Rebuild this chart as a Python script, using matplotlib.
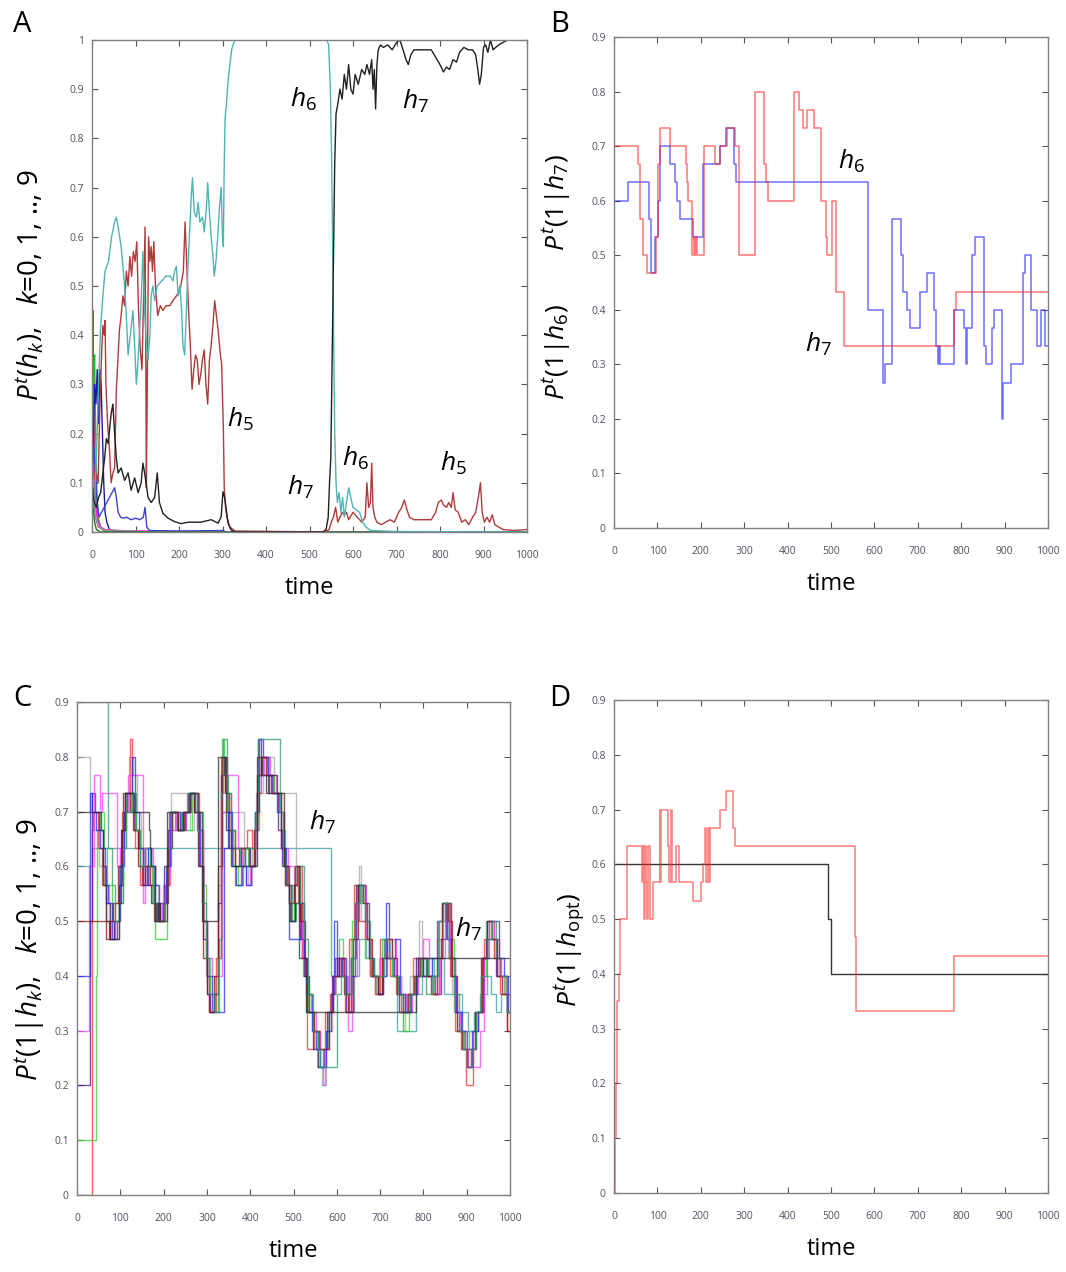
import numpy as np
import matplotlib.pyplot as plt

plt.rcParams['font.family'] = ['Open Sans', 'DejaVu Sans']
plt.rcParams['mathtext.fontset'] = 'custom'
plt.rcParams['mathtext.rm'] = 'Open Sans'
plt.rcParams['mathtext.it'] = 'Open Sans:italic'

# ---------------- panel A: P^t(h_k), (time, value) ----------------
A_H0 = [(0, 0.1), (2, 0.45), (4, 0.25), (6, 0.12), (9, 0.05), (12, 0.03), (18, 0.01), (25, 0.004), (40, 0), (1000, 0)]
A_H1 = [(0, 0.1), (2, 0.2), (4, 0.3), (6, 0.36), (8, 0.22), (11, 0.08), (14, 0.03), (20, 0.01), (30, 0), (1000, 0)]
A_H2 = [(0, 0.1), (3, 0.17), (6, 0.3), (9, 0.26), (12, 0.33), (15, 0.22), (18, 0.33), (21, 0.3), (24, 0.2),
        (27, 0.1), (30, 0.04), (34, 0.02), (40, 0.005), (60, 0), (1000, 0)]
A_H3 = [(0, 0.1), (3, 0.13), (6, 0.08), (10, 0.04), (14, 0.02), (20, 0.01), (30, 0.005), (60, 0.003),
        (120, 0.002), (300, 0.001), (320, 0), (1000, 0)]
A_H4 = [(0, 0.1), (4, 0.18), (8, 0.12), (12, 0.06), (16, 0.03), (22, 0.04), (28, 0.05), (34, 0.06), (40, 0.07),
        (46, 0.08), (52, 0.09), (56, 0.07), (60, 0.04), (66, 0.03), (72, 0.028), (80, 0.03), (90, 0.025),
        (100, 0.028), (110, 0.025), (118, 0.03), (122, 0.05), (126, 0.01), (132, 0.003), (200, 0.002),
        (300, 0.003), (310, 0), (1000, 0)]
A_H5 = [(0, 0.1), (5, 0.08), (10, 0.12), (14, 0.1), (18, 0.25), (22, 0.36), (25, 0.42), (28, 0.4), (30, 0.43),
        (32, 0.3), (36, 0.22), (40, 0.17), (44, 0.1), (48, 0.12), (52, 0.13), (56, 0.29), (60, 0.36), (63, 0.41),
        (67, 0.44), (71, 0.48), (75, 0.46), (79, 0.53), (83, 0.5), (87, 0.56), (91, 0.52), (95, 0.57), (99, 0.55),
        (103, 0.59), (107, 0.45), (111, 0.37), (115, 0.33), (119, 0.5), (122, 0.62), (124, 0.3), (125, 0.09),
        (127, 0.3), (130, 0.6), (133, 0.55), (136, 0.58), (139, 0.53), (142, 0.59), (146, 0.5), (151, 0.44),
        (157, 0.46), (163, 0.45), (170, 0.46), (179, 0.46), (186, 0.47), (194, 0.48), (202, 0.49), (206, 0.51),
        (210, 0.53), (214, 0.63), (218, 0.54), (222, 0.45), (226, 0.38), (230, 0.29), (234, 0.33), (238, 0.36),
        (242, 0.35), (246, 0.3), (250, 0.32), (254, 0.35), (258, 0.37), (262, 0.3), (266, 0.26), (270, 0.35),
        (274, 0.38), (278, 0.42), (282, 0.47), (286, 0.44), (290, 0.41), (294, 0.37), (298, 0.34), (302, 0.21),
        (304, 0.09), (307, 0.05), (310, 0.03), (317, 0.01), (329, 0.002), (535, 0), (545, 0.005), (550, 0.02),
        (555, 0.03), (560, 0.05), (565, 0.02), (570, 0.03), (575, 0.04), (580, 0.035), (585, 0.04), (590, 0.025),
        (600, 0.04), (610, 0.03), (620, 0.02), (628, 0.03), (632, 0.1), (636, 0.05), (640, 0.06), (643, 0.14),
        (646, 0.05), (650, 0.03), (655, 0.02), (665, 0.015), (675, 0.02), (685, 0.025), (695, 0.02), (705, 0.04),
        (712, 0.05), (718, 0.065), (724, 0.045), (730, 0.03), (740, 0.025), (760, 0.025), (780, 0.025),
        (790, 0.04), (796, 0.06), (803, 0.065), (808, 0.055), (815, 0.05), (820, 0.06), (826, 0.05), (830, 0.08),
        (835, 0.045), (842, 0.04), (850, 0.02), (858, 0.025), (866, 0.015), (875, 0.03), (882, 0.04), (888, 0.07),
        (893, 0.1), (897, 0.04), (902, 0.02), (908, 0.03), (914, 0.02), (920, 0.035), (926, 0.015), (935, 0.01),
        (945, 0.005), (970, 0.003), (1000, 0.005)]
A_H6 = [(0, 0.1), (5, 0.05), (10, 0.15), (15, 0.3), (20, 0.42), (25, 0.48), (30, 0.53), (38, 0.55), (45, 0.6),
        (52, 0.63), (56, 0.64), (60, 0.62), (67, 0.58), (72, 0.53), (75, 0.5), (80, 0.42), (83, 0.36), (88, 0.4),
        (94, 0.45), (98, 0.38), (102, 0.3), (106, 0.35), (110, 0.42), (113, 0.47), (117, 0.57), (121, 0.45),
        (125, 0.38), (129, 0.35), (133, 0.4), (136, 0.48), (140, 0.5), (144, 0.47), (150, 0.5), (160, 0.51),
        (170, 0.52), (180, 0.52), (186, 0.51), (190, 0.53), (194, 0.54), (198, 0.48), (202, 0.5), (206, 0.45),
        (209, 0.38), (213, 0.36), (217, 0.45), (221, 0.55), (225, 0.62), (228, 0.68), (231, 0.72), (235, 0.65),
        (240, 0.64), (244, 0.67), (248, 0.63), (254, 0.64), (258, 0.61), (263, 0.66), (266, 0.71), (270, 0.65),
        (274, 0.6), (278, 0.56), (281, 0.52), (285, 0.55), (289, 0.6), (293, 0.66), (297, 0.7), (300, 0.6),
        (302, 0.58), (304, 0.75), (306, 0.84), (310, 0.88), (313, 0.92), (317, 0.95), (321, 0.98), (326, 0.995),
        (330, 1.0), (540, 1.0), (544, 0.99), (548, 0.9), (551, 0.75), (553, 0.6), (556, 0.35), (558, 0.2),
        (561, 0.1), (564, 0.06), (568, 0.08), (572, 0.04), (576, 0.07), (580, 0.03), (585, 0.06), (590, 0.09),
        (595, 0.07), (600, 0.05), (608, 0.045), (615, 0.04), (622, 0.02), (630, 0.01), (640, 0.003), (700, 0.001),
        (1000, 0)]
A_H7 = [(0, 0.1), (5, 0.06), (10, 0.05), (15, 0.07), (20, 0.08), (25, 0.12), (29, 0.15), (33, 0.19), (37, 0.18),
        (44, 0.24), (48, 0.26), (52, 0.2), (56, 0.15), (60, 0.12), (67, 0.13), (75, 0.105), (83, 0.12), (90, 0.085),
        (98, 0.11), (106, 0.08), (113, 0.1), (117, 0.14), (121, 0.12), (129, 0.07), (136, 0.06), (144, 0.07),
        (150, 0.12), (155, 0.06), (163, 0.038), (175, 0.028), (190, 0.021), (205, 0.017), (221, 0.02),
        (251, 0.02), (274, 0.025), (290, 0.018), (297, 0.031), (301, 0.082), (305, 0.07), (313, 0.017),
        (320, 0.004), (328, 0), (530, 0), (538, 0.005), (543, 0.03), (546, 0.1), (549, 0.15), (552, 0.35),
        (555, 0.55), (558, 0.75), (561, 0.85), (565, 0.87), (570, 0.9), (575, 0.88), (580, 0.93), (585, 0.9),
        (590, 0.95), (595, 0.9), (600, 0.89), (605, 0.93), (612, 0.91), (620, 0.94), (627, 0.93), (632, 0.95),
        (638, 0.93), (643, 0.96), (646, 0.9), (649, 0.94), (652, 0.86), (655, 0.95), (658, 0.98), (663, 0.99),
        (670, 0.985), (680, 0.99), (690, 0.98), (700, 0.995), (708, 1.0), (715, 0.98), (722, 0.96), (727, 0.95),
        (733, 0.97), (740, 0.98), (760, 0.98), (780, 0.98), (790, 0.965), (800, 0.95), (808, 0.935), (815, 0.945),
        (822, 0.94), (830, 0.96), (838, 0.955), (845, 0.975), (855, 0.985), (865, 0.98), (875, 0.98), (882, 0.97),
        (887, 0.94), (891, 0.91), (895, 0.93), (900, 0.985), (905, 0.99), (910, 0.975), (916, 1.0), (922, 0.98),
        (928, 0.985), (935, 0.99), (945, 0.995), (955, 1.0), (1000, 1.0)]
A_H8 = [(0, 0.1), (4, 0.06), (8, 0.03), (14, 0.01), (30, 0.004), (100, 0.002), (130, 0), (1000, 0)]
A_H9 = [(0, 0.1), (3, 0.05), (6, 0.02), (10, 0.005), (20, 0), (1000, 0)]

A_SERIES = [A_H0, A_H1, A_H2, A_H3, A_H4, A_H8, A_H9, A_H5, A_H6, A_H7]
A_COLORS = ['#ff2020', '#20c020', '#1a1aa0', '#ff20ff', '#4040d0', '#909090', '#207020',
            '#b03a3a', '#4fb4b4', '#202020']

# ---------------- panel B: P^t(1|h), step values in 30ths ----------------
B_H6 = [(0, 18), (32, 19), (81, 17), (85, 14), (94, 16), (102, 18), (106, 21), (129, 20), (140, 19), (146, 18),
        (153, 17), (181, 16), (205, 20), (244, 21), (259, 22), (276, 20), (280, 19), (586, 12), (619, 8),
        (625, 9), (640, 17), (662, 15), (666, 13), (675, 12), (683, 11), (704, 13), (721, 14), (738, 12),
        (741, 10), (746, 9), (748, 10), (752, 9), (783, 12), (806, 11), (810, 9), (814, 11), (826, 15),
        (831, 16), (853, 10), (857, 9), (872, 11), (876, 12), (893, 6), (897, 8), (915, 9), (942, 14),
        (946, 15), (960, 12), (975, 10), (984, 12), (992, 10), (1000, 10)]
B_H7 = [(0, 21), (56, 20), (61, 17), (67, 15), (75, 14), (97, 16), (102, 20), (106, 22), (129, 21), (167, 20),
        (169, 19), (171, 18), (179, 15), (184, 16), (186, 15), (190, 16), (192, 15), (208, 21), (233, 20),
        (244, 21), (261, 22), (279, 21), (289, 15), (325, 24), (345, 20), (350, 19), (355, 18), (415, 24),
        (427, 23), (436, 22), (444, 23), (461, 22), (478, 18), (489, 16), (491, 15), (503, 18), (512, 13),
        (529, 10), (783, 12), (787, 13), (1000, 13)]

# ---------------- panel C: P^t(1|h_k), k=0..9, step values in 30ths ----------------
C_H0 = [(0, 0), (34, 20), (38, 21), (48, 19), (58, 17), (66, 15), (76, 14), (88, 16), (98, 18), (104, 21),
        (112, 22), (122, 25), (126, 22), (134, 19), (145, 17), (158, 19), (170, 18), (180, 16), (192, 15),
        (204, 17), (212, 21), (226, 20), (240, 21), (264, 22), (282, 20), (292, 15), (300, 12), (306, 10),
        (322, 13), (332, 24), (342, 22), (356, 19), (366, 17), (378, 19), (392, 20), (404, 19), (416, 22),
        (424, 24), (438, 23), (452, 22), (466, 21), (478, 18), (488, 17), (500, 16), (510, 18), (520, 13),
        (532, 8), (548, 9), (562, 8), (572, 10), (585, 11), (596, 13), (606, 12), (618, 10), (628, 14),
        (640, 17), (652, 15), (664, 14), (676, 12), (688, 11), (700, 14), (712, 13), (724, 12), (736, 11),
        (748, 10), (762, 11), (776, 13), (790, 12), (822, 11), (836, 15), (850, 16), (862, 12), (874, 9),
        (886, 8), (898, 6), (914, 9), (926, 10), (940, 14), (952, 15), (964, 13), (978, 11), (992, 9)]
C_H1 = [(0, 3), (43, 12), (47, 20), (52, 21), (62, 19), (70, 17), (80, 15), (98, 17), (106, 20), (114, 22),
        (124, 21), (136, 20), (146, 18), (156, 19), (164, 18), (174, 16), (180, 14), (208, 18), (216, 21),
        (230, 20), (242, 21), (252, 20), (266, 22), (278, 21), (290, 17), (298, 13), (308, 11), (318, 10),
        (328, 14), (334, 25), (340, 23), (348, 20), (360, 18), (372, 17), (384, 19), (396, 18), (408, 20),
        (418, 23), (430, 24), (444, 23), (456, 22), (470, 20), (480, 17), (490, 15), (500, 17), (512, 16),
        (522, 12), (534, 10), (548, 9), (556, 7), (568, 8), (580, 10), (592, 12), (604, 14), (614, 12),
        (624, 11), (636, 15), (646, 17), (658, 16), (668, 13), (680, 12), (704, 14), (728, 12), (740, 11),
        (754, 9), (766, 11), (780, 12), (796, 13), (810, 12), (824, 11), (836, 13), (846, 16), (858, 14),
        (870, 10), (882, 9), (894, 8), (906, 9), (920, 10), (932, 12), (944, 15), (956, 14), (970, 12),
        (986, 11)]
C_H2 = [(0, 6), (30, 15), (34, 22), (42, 21), (50, 20), (60, 18), (68, 16), (76, 14), (86, 15), (96, 17),
        (104, 20), (112, 22), (132, 20), (142, 19), (152, 18), (162, 17), (172, 16), (182, 15), (192, 16),
        (202, 18), (210, 20), (220, 21), (232, 20), (244, 21), (256, 22), (270, 21), (280, 18), (290, 14),
        (300, 11), (308, 10), (316, 11), (326, 16), (332, 23), (340, 24), (346, 21), (356, 19), (378, 18),
        (388, 19), (400, 18), (410, 21), (418, 25), (426, 23), (440, 22), (464, 20), (474, 18), (484, 17),
        (494, 15), (504, 16), (514, 14), (524, 12), (532, 10), (544, 8), (556, 7), (570, 8), (578, 10),
        (590, 12), (600, 13), (612, 12), (622, 10), (632, 13), (644, 17), (664, 15), (674, 13), (684, 12),
        (696, 11), (706, 13), (732, 12), (744, 10), (770, 11), (784, 13), (798, 12), (826, 11), (840, 14),
        (852, 16), (864, 13), (874, 10), (886, 9), (896, 8), (920, 10), (934, 13), (944, 14), (968, 12),
        (994, 10)]
C_H3 = [(0, 9), (27, 18), (40, 23), (53, 21), (57, 22), (93, 18), (100, 19), (108, 21), (117, 23), (152, 16),
        (156, 19), (176, 16), (186, 15), (196, 16), (206, 17), (214, 20), (228, 21), (240, 20), (252, 21),
        (264, 22), (276, 20), (290, 15), (300, 13), (311, 12), (335, 21), (347, 23), (371, 19), (380, 18),
        (390, 17), (400, 18), (410, 20), (420, 23), (432, 24), (446, 23), (460, 22), (470, 21), (478, 19),
        (488, 18), (500, 17), (512, 15), (520, 13), (530, 11), (540, 10), (552, 9), (562, 8), (569, 6),
        (572, 8), (582, 10), (592, 12), (602, 13), (614, 12), (626, 9), (634, 12), (646, 16), (656, 17),
        (668, 14), (678, 12), (700, 13), (712, 14), (736, 12), (748, 11), (760, 10), (774, 11), (788, 13),
        (800, 14), (812, 12), (826, 11), (838, 13), (850, 15), (862, 13), (872, 10), (884, 9), (896, 8),
        (902, 7), (930, 9), (940, 13), (952, 15), (962, 14), (974, 12), (988, 11)]
C_H4 = [(0, 12), (30, 22), (35, 21), (44, 20), (54, 19), (64, 17), (72, 16), (80, 14), (92, 15), (100, 18),
        (108, 21), (116, 22), (128, 24), (134, 21), (144, 19), (152, 17), (164, 19), (172, 18), (180, 17),
        (190, 15), (198, 16), (206, 18), (214, 21), (238, 20), (250, 21), (262, 22), (272, 21), (284, 18),
        (290, 15), (300, 12), (311, 10), (339, 19), (348, 21), (358, 18), (368, 17), (380, 18), (390, 17),
        (402, 18), (412, 21), (420, 25), (430, 24), (440, 23), (450, 22), (462, 21), (472, 19), (482, 17),
        (490, 14), (517, 16), (524, 13), (532, 11), (542, 9), (552, 8), (562, 7), (574, 9), (586, 11),
        (594, 15), (600, 12), (610, 13), (622, 11), (632, 12), (642, 16), (650, 17), (666, 16), (674, 13),
        (686, 12), (696, 11), (706, 12), (714, 16), (720, 13), (734, 14), (746, 11), (758, 10), (772, 11),
        (786, 12), (798, 13), (808, 12), (820, 13), (832, 15), (842, 16), (854, 14), (864, 12), (876, 10),
        (888, 9), (900, 7), (912, 9), (926, 10), (938, 13), (948, 15), (974, 13), (986, 12), (996, 10)]
C_H5 = [(0, 15), (68, 14), (76, 15), (84, 16), (94, 18), (104, 20), (112, 22), (122, 21), (130, 20), (140, 18),
        (150, 17), (158, 18), (168, 17), (178, 15), (200, 16), (210, 19), (220, 21), (234, 20), (246, 21),
        (258, 22), (270, 21), (282, 18), (292, 13), (300, 11), (306, 10), (316, 12), (326, 18), (334, 24),
        (342, 22), (352, 20), (364, 18), (374, 19), (398, 18), (408, 20), (416, 23), (426, 24), (436, 23),
        (448, 22), (470, 19), (480, 17), (490, 16), (500, 17), (508, 18), (516, 15), (526, 12), (536, 10),
        (548, 9), (560, 8), (582, 10), (592, 12), (604, 13), (616, 11), (626, 10), (638, 14), (648, 17),
        (660, 16), (670, 14), (682, 12), (694, 11), (704, 13), (716, 14), (728, 13), (740, 11), (752, 10),
        (764, 11), (778, 12), (792, 13), (806, 12), (818, 11), (832, 13), (844, 16), (856, 15), (866, 12),
        (878, 9), (890, 8), (900, 7), (910, 8), (922, 10), (936, 13), (946, 15), (958, 14), (970, 12),
        (982, 11), (994, 9)]
C_H6 = [(0, 18), (35, 19), (587, 12), (596, 13), (606, 12), (618, 11), (628, 10), (640, 12), (652, 14),
        (664, 13), (676, 12), (690, 11), (704, 12), (716, 13), (728, 12), (740, 9), (783, 11), (796, 12),
        (810, 13), (824, 12), (836, 13), (847, 11), (890, 10), (904, 9), (918, 10), (930, 11), (946, 12),
        (956, 11), (968, 10), (980, 11), (992, 10)]
C_H7 = B_H7
C_H8 = [(0, 24), (30, 21), (40, 20), (50, 18), (62, 17), (74, 15), (86, 14), (96, 16), (106, 19), (114, 21),
        (120, 24), (130, 23), (138, 21), (148, 19), (156, 17), (166, 18), (176, 17), (186, 15), (198, 17),
        (208, 18), (216, 22), (260, 20), (270, 21), (280, 19), (290, 15), (298, 12), (308, 11), (318, 12),
        (326, 17), (335, 21), (385, 18), (395, 17), (405, 19), (414, 22), (430, 24), (454, 22), (505, 17),
        (512, 16), (520, 13), (530, 10), (542, 9), (554, 7), (566, 6), (576, 9), (588, 11), (598, 12),
        (610, 13), (620, 11), (632, 14), (642, 16), (652, 18), (656, 15), (666, 14), (676, 12), (688, 11),
        (698, 13), (710, 14), (722, 13), (734, 12), (744, 11), (754, 9), (758, 11), (770, 12), (782, 13),
        (790, 15), (796, 12), (808, 13), (820, 12), (832, 14), (844, 16), (856, 13), (866, 11), (878, 9),
        (890, 8), (902, 7), (914, 9), (926, 10), (938, 13), (950, 14), (962, 13), (976, 12), (990, 11)]
C_H9 = [(0, 27), (72, 19), (80, 17), (88, 15), (96, 16), (106, 19), (114, 21), (126, 22), (136, 20), (146, 18),
        (156, 19), (168, 18), (178, 16), (188, 15), (200, 16), (208, 19), (216, 21), (230, 20), (242, 21),
        (254, 22), (278, 20), (288, 16), (298, 13), (306, 11), (316, 10), (326, 13), (332, 22), (338, 25),
        (346, 22), (356, 20), (366, 19), (376, 18), (388, 19), (410, 21), (418, 25), (468, 21), (476, 18),
        (486, 17), (496, 15), (506, 16), (516, 18), (524, 14), (534, 11), (546, 9), (556, 8), (561, 7),
        (600, 11), (610, 12), (620, 11), (632, 13), (642, 16), (654, 17), (664, 15), (676, 13), (686, 12),
        (708, 14), (720, 13), (730, 12), (742, 11), (752, 10), (768, 11), (780, 12), (794, 13), (806, 11),
        (820, 12), (834, 15), (846, 16), (860, 13), (870, 11), (882, 9), (892, 8), (900, 7), (910, 8),
        (922, 10), (934, 12), (946, 14), (958, 15), (968, 13), (980, 12), (992, 10)]

C_SERIES = [C_H6, C_H8, C_H0, C_H1, C_H2, C_H3, C_H4, C_H5, C_H9, C_H7]
C_COLORS = ['#3a9c9c', '#a8a8a8', '#f03030', '#30d030', '#4a1090', '#ff40ff', '#2a2af0', '#8b1010',
            '#2f9a6a', '#303030']

# ---------------- panel D: P^t(1|h_opt) ----------------
D_RED = [(0, 0), (2, 0.1), (5, 0.2), (8, 0.35), (11, 0.4), (14, 0.5), (29, 0.633), (64, 0.567), (66, 0.633),
         (68, 0.5), (71, 0.633), (73, 0.567), (76, 0.5), (78, 0.633), (83, 0.5), (91, 0.567), (105, 0.7),
         (107, 0.567), (109, 0.7), (124, 0.633), (127, 0.567), (131, 0.7), (133, 0.567), (144, 0.633),
         (149, 0.567), (183, 0.533), (200, 0.567), (206, 0.6), (210, 0.667), (213, 0.567), (216, 0.667),
         (219, 0.567), (221, 0.667), (244, 0.7), (258, 0.733), (274, 0.667), (279, 0.633), (556, 0.467),
         (558, 0.333), (784, 0.433), (1000, 0.433)]
D_BLACK = [(0, 0.6), (494, 0.5), (500, 0.4), (1000, 0.4)]


def unzip(pairs, scale=1.0):
    t, v = zip(*pairs)
    t = list(t)
    v = list(np.array(v, dtype=float) / scale)
    if t[-1] < 1000:
        t.append(1000)
        v.append(v[-1])
    return t, v


def style(ax, ymax):
    ax.set_xlim(0, 1000)
    ax.set_ylim(0, ymax)
    ax.set_xticks(range(0, 1001, 100))
    yt = np.round(np.arange(0, ymax + 0.001, 0.1), 1)
    ax.set_yticks(yt)
    ax.set_yticklabels([f'{v:g}' for v in yt])
    ax.tick_params(direction='in', top=True, right=True, length=4, width=0.8, color='#555555',
                   labelsize=7.5, labelcolor='#505062')
    ax.tick_params(axis='x', pad=13)
    ax.tick_params(axis='y', pad=6)
    for s in ax.spines.values():
        s.set_color('#808080')
        s.set_linewidth(1.0)
    ax.set_xlabel('time', fontsize=17, labelpad=11)


fig = plt.figure(figsize=(10.66, 12.72), dpi=100)
W, H = 1066, 1272


def axes_at(x0, y0, x1, y1):
    return fig.add_axes([x0 / W, 1 - y1 / H, (x1 - x0) / W, (y1 - y0) / H])


axA = axes_at(92, 40, 527, 532)
axB = axes_at(614, 37, 1048, 528)
axC = axes_at(77, 702, 510, 1195)
axD = axes_at(614, 700, 1048, 1193)

# A
for ser, col in zip(A_SERIES, A_COLORS):
    t, v = unzip(ser)
    axA.plot(t, v, color=col, lw=1.0)
style(axA, 1.0)
for s, t, v in [('$h_6$', 485, 0.88), ('$h_7$', 743, 0.875), ('$h_5$', 340, 0.228),
                ('$h_7$', 478, 0.09), ('$h_6$', 605, 0.15), ('$h_5$', 830, 0.14)]:
    axA.text(t, v, s, fontsize=19, ha='center', va='center')

# B
t, v = unzip(B_H6, 30)
axB.step(t, v, where='post', color='#2020ff', lw=1.1, alpha=0.65)
t, v = unzip(B_H7, 30)
axB.step(t, v, where='post', color='#ff1a1a', lw=1.1, alpha=0.6)
style(axB, 0.9)
axB.text(548, 0.672, '$h_6$', fontsize=19, ha='center', va='center')
axB.text(470, 0.337, '$h_7$', fontsize=19, ha='center', va='center')

# C
for ser, col in zip(C_SERIES, C_COLORS):
    t, v = unzip(ser, 30)
    axC.step(t, v, where='post', color=col, lw=1.0, alpha=0.75)
style(axC, 0.9)
axC.text(566, 0.68, '$h_7$', fontsize=19, ha='center', va='center')
axC.text(903, 0.484, '$h_7$', fontsize=19, ha='center', va='center')

# D
t, v = unzip(D_BLACK)
axD.step(t, v, where='post', color='#333333', lw=1.0)
t, v = unzip(D_RED)
axD.step(t, v, where='post', color='#ff2020', lw=1.2, alpha=0.55)
style(axD, 0.9)

# y labels and panel letters
ylabels = [(30, 285, r'$P^t(h_k)$,   $k$=0, 1, .., 9', 20),
           (557, 277, r'$P^t(1|h_6)$        $P^t(1|h_7)$', 19),
           (30, 950, r'$P^t(1|h_k)$,   $k$=0, 1, .., 9', 20),
           (570, 950, r'$P^t(1|h_{\mathrm{opt}})$', 19)]
for x, y, s, fs in ylabels:
    fig.text(x / W, 1 - y / H, s, rotation=90, fontsize=fs, ha='center', va='center')

for x, y, s in [(22, 25, 'A'), (560, 25, 'B'), (22, 698, 'C'), (560, 698, 'D')]:
    fig.text(x / W, 1 - y / H, s, fontsize=21, ha='center', va='center')

fig.savefig('out.png', dpi=100)
